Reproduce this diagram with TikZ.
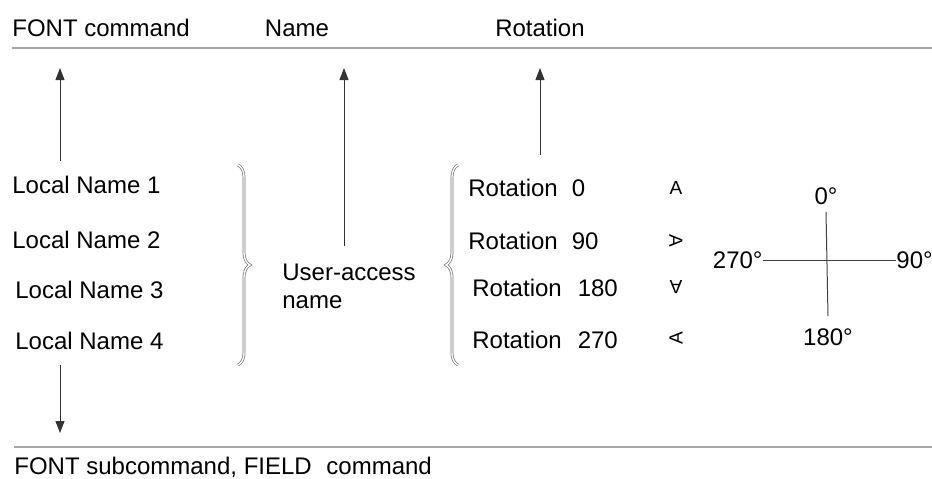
\documentclass[tikz,border=0pt]{standalone}
\usepackage{fontspec}
\setmainfont{Liberation Sans}
\usetikzlibrary{arrows.meta,decorations.pathreplacing}
\begin{document}
\begin{tikzpicture}[
    x=0.5pt, y=-0.5pt,
    txt/.style={anchor=west, inner sep=0pt, font=\fontsize{12}{14}\selectfont},
    head/.style={anchor=base, inner sep=0pt, font=\fontsize{12}{14}\selectfont},
    ctxt/.style={inner sep=1pt, font=\fontsize{12}{14}\selectfont},
    rule/.style={draw=black!35, line width=1.1pt},
    arrow/.style={-{Triangle[length=6pt,width=4.5pt]}, draw=black!80, line width=0.5pt},
    brace/.style={decorate, decoration={brace, amplitude=6pt}, draw=black!55, double=white, double distance=0.7pt, line width=0.35pt},
    glyph/.style={inner sep=0pt, font=\fontsize{9.5}{9.5}\selectfont},
    axis/.style={draw=black!75, line width=0.5pt}
]
\useasboundingbox (0,0) rectangle (932,478);

% headings and rules
\node[head, anchor=base west] (fontcmd) at (12,36) {FONT command};
\node[head] (namehead) at (297,36) {Name};
\node[head] (rothead) at (540,36) {Rotation};
\coordinate (topl) at (12,48);
\coordinate (topr) at (932,48);
\draw[rule] (topl) -- (topr);
\coordinate (botl) at (14,447);
\coordinate (botr) at (932,447);
\draw[rule] (botl) -- (botr);
\node[head, anchor=base west] (subcmd) at (14,474) {FONT subcommand, FIELD\hspace{4pt} command};

% local names
\node[txt] (ln1) at (12,185) {Local Name 1};
\node[txt] (ln2) at (12,240) {Local Name 2};
\node[txt] (ln3) at (15,290) {Local Name 3};
\node[txt] (ln4) at (15,341) {Local Name 4};

% user-access name
\node[txt, align=left] (user) at (282,286) {User-access\\name};

% rotations
\node[txt] (r0) at (468,188) {Rotation\hspace{7pt}0};
\node[txt] (r90) at (468,241) {Rotation\hspace{7pt}90};
\node[txt] (r180) at (472,288) {Rotation\hspace{8pt}180};
\node[txt] (r270) at (472,340) {Rotation\hspace{8pt}270};

\node[glyph] (a0) at (676,188) {A};
\node[glyph, rotate=-90] (a90) at (676,241) {A};
\node[glyph, rotate=180] (a180) at (676,287) {A};
\node[glyph, rotate=90] (a270) at (676,338) {A};

% braces
\coordinate (lbt) at (238,165);
\coordinate (lbb) at (238,365);
\draw[brace] (lbt) -- (lbb);
\coordinate (rbt) at (458,165);
\coordinate (rbb) at (458,365);
\draw[brace] (rbb) -- (rbt);

% arrows
\coordinate (fontup) at (60,68);
\coordinate (nameup) at (344,68);
\coordinate (rotup) at (540,68);
\coordinate (rotbot) at (540,155);
\coordinate (fielddown) at (60,433);
\draw[arrow] (ln1.north -| fontup) ++(0,-15) -- (fontup);
\draw[arrow] (user.north -| nameup) ++(0,-17) -- (nameup);
\draw[arrow] (rotbot) -- (rotup);
\draw[arrow] (ln4.south -| fielddown) ++(0,15) -- (fielddown);

% degree cross
\node[ctxt] (d0) at (826,196) {0°};
\node[ctxt, anchor=east, inner sep=0pt] (d270) at (763,260) {270°};
\node[ctxt, anchor=west, inner sep=0pt] (d90) at (896,260) {90°};
\node[ctxt] (d180) at (828,337) {180°};
\draw[axis] (d0.south) ++(0,5) -- ([yshift=5pt]d180.north);
\draw[axis] (d270.east) -- (d90.west);
\end{tikzpicture}
\end{document}
